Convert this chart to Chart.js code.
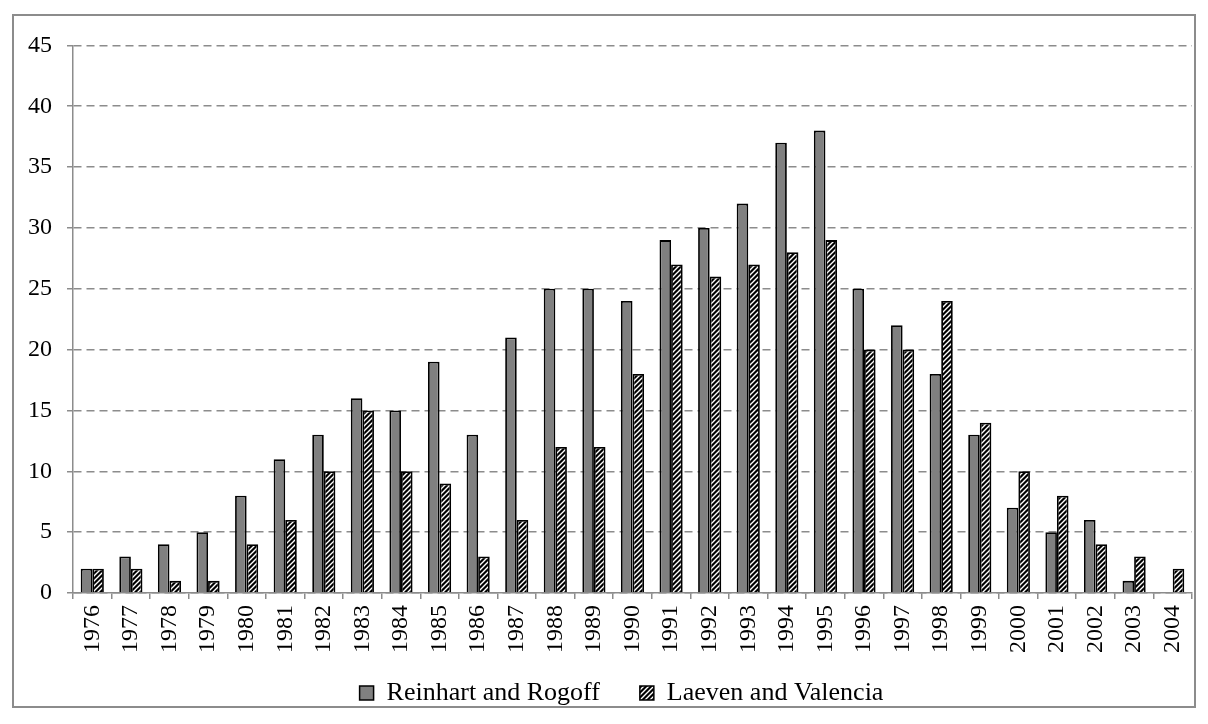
<!DOCTYPE html>
<html lang="en">
<head>
    <meta charset="UTF-8">
    <title>Banking crises: Reinhart and Rogoff vs Laeven and Valencia</title>
    <script src="https://cdn.jsdelivr.net/npm/chart.js"></script>
    <style>
        body {
            margin: 0;
            background: #fff;
        }

        .frame {
            position: absolute;
            left: 12px;
            top: 14px;
            width: 1180px;
            height: 690px;
            border: 2px solid #8c8c8c;
        }
    </style>
</head>
<body>
    <div class="frame">
        <canvas id="crisisChart" width="1180" height="690"></canvas>
    </div>

    <script>
        const years = ['1976', '1977', '1978', '1979', '1980', '1981', '1982', '1983', '1984', '1985',
            '1986', '1987', '1988', '1989', '1990', '1991', '1992', '1993', '1994', '1995',
            '1996', '1997', '1998', '1999', '2000', '2001', '2002', '2003', '2004'];
        const reinhartRogoff = [2, 3, 4, 5, 8, 11, 13, 16, 15, 19, 13, 21, 25, 25, 24, 29, 30, 32, 37, 38,
            25, 22, 18, 13, 7, 5, 6, 1, 0];
        const laevenValencia = [2, 2, 1, 1, 4, 6, 10, 15, 10, 9, 3, 6, 12, 12, 18, 27, 26, 27, 28, 29,
            20, 20, 24, 14, 10, 8, 4, 3, 2];
        const yTicks = [0, 5, 10, 15, 20, 25, 30, 35, 40, 45];

        // black/white diagonal stripes for the second series
        function makeHatch() {
            const n = 5;
            const tile = document.createElement('canvas');
            tile.width = n;
            tile.height = n;
            const c = tile.getContext('2d');
            c.fillStyle = '#000';
            c.fillRect(0, 0, n, n);
            c.strokeStyle = '#fff';
            c.lineWidth = 1.4;
            c.beginPath();
            for (let k = -1; k <= 1; k++) {
                c.moveTo(-1 + k * n, n + 1);
                c.lineTo(n + 1 + k * n, -1);
            }
            c.stroke();
            return c.createPattern(tile, 'repeat');
        }

        const ctx = document.getElementById('crisisChart').getContext('2d');
        const hatch = makeHatch();
        const serif = "'Liberation Serif', 'Times New Roman', serif";

        new Chart(ctx, {
            type: 'bar',
            data: {
                labels: years,
                datasets: [{
                    label: 'Reinhart and Rogoff',
                    data: reinhartRogoff,
                    backgroundColor: '#808080',
                    borderColor: '#000',
                    borderWidth: 1.8
                }, {
                    label: 'Laeven and Valencia',
                    data: laevenValencia,
                    backgroundColor: hatch,
                    borderColor: '#000',
                    borderWidth: 1.8
                }]
            },
            options: {
                responsive: false,
                animation: false,
                devicePixelRatio: 1,
                layout: {
                    padding: { left: 0, top: 27, right: 2, bottom: 0 }
                },
                datasets: {
                    bar: {
                        categoryPercentage: 0.6,
                        barPercentage: 1.0
                    }
                },
                scales: {
                    x: {
                        afterFit: s => {
                            s.paddingLeft = 0;
                            s.paddingRight = 0;
                            s.height += 10;
                        },
                        grid: {
                            offset: true,
                            drawOnChartArea: false,
                            drawTicks: true,
                            tickLength: 6,
                            color: '#8c8c8c',
                            lineWidth: 1.5
                        },
                        border: { color: '#8c8c8c', width: 1.5 },
                        ticks: {
                            autoSkip: false,
                            minRotation: 90,
                            maxRotation: 90,
                            padding: 6,
                            color: '#000',
                            font: { family: serif, size: 24 }
                        }
                    },
                    y: {
                        min: 0,
                        max: 45,
                        afterBuildTicks: axis => {
                            axis.ticks = yTicks.map(v => ({ value: v }));
                        },
                        afterFit: s => {
                            s.width = 59;
                        },
                        grid: {
                            color: '#8c8c8c',
                            lineWidth: 1.5,
                            tickLength: 6,
                            drawTicks: true
                        },
                        border: { color: '#8c8c8c', width: 1.5, dash: [8, 5] },
                        ticks: {
                            padding: 15,
                            color: '#000',
                            font: { family: serif, size: 24 }
                        }
                    }
                },
                plugins: {
                    legend: {
                        position: 'bottom',
                        labels: {
                            boxWidth: 14,
                            boxHeight: 14,
                            padding: 1,
                            color: '#000',
                            font: { family: serif, size: 26, lineHeight: 1 },
                            generateLabels: chart => {
                                const items = Chart.defaults.plugins.legend.labels.generateLabels(chart);
                                items.forEach((item, i) => {
                                    item.lineWidth = 1.5;
                                    if (i === 0) item.text = item.text + '\u00a0'.repeat(6);
                                });
                                return items;
                            }
                        }
                    },
                    tooltip: { enabled: false }
                }
            },
            plugins: [{
                // legend sits a little right of the frame centre and close to the bottom edge
                id: 'legendShift',
                afterLayout: chart => {
                    chart.legend.left += 37;
                    chart.legend.top += 10;
                    chart.legend.bottom += 10;
                }
            }]
        });
    </script>
</body>
</html>
